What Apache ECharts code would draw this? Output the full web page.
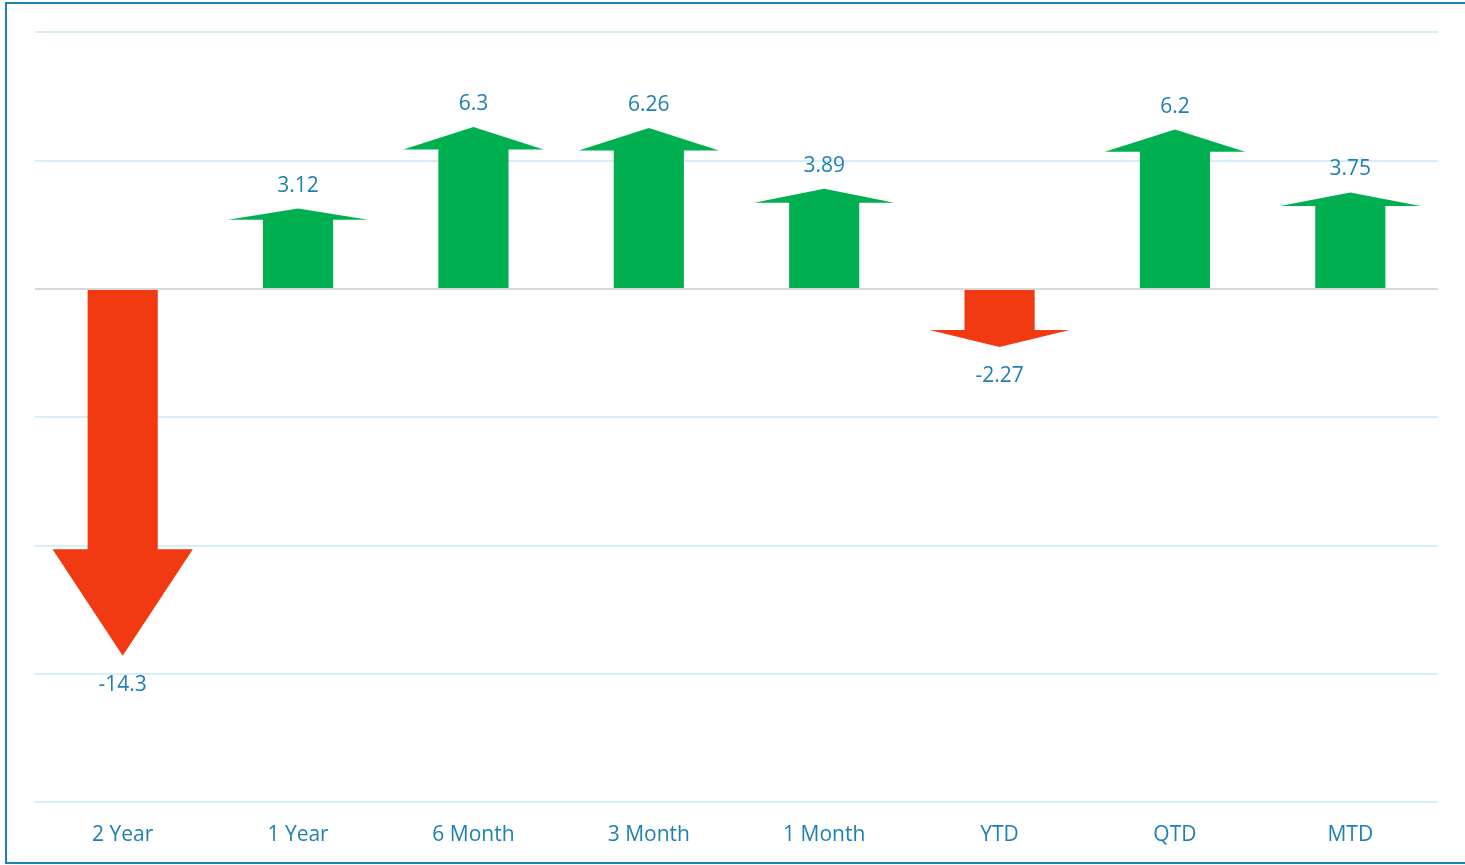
<!DOCTYPE html>
<html>
<head>
<meta charset="utf-8">
<script src="https://cdn.jsdelivr.net/npm/echarts@6/dist/echarts.min.js"></script>
<style>
  html, body { margin: 0; padding: 0; background: #fff; }
  #root { width: 1465px; height: 865px; }
</style>
</head>
<body>
<div id="root"></div>
<script>
// categories and returns
var categories = ['2 Year', '1 Year', '6 Month', '3 Month', '1 Month', 'YTD', 'QTD', 'MTD'];
var values = [-14.3, 3.12, 6.3, 6.26, 3.89, -2.27, 6.2, 3.75];

var textColor = '#1F80B4';
var upColor = '#00B050';
var downColor = '#F23A12';

// draws one arrow from zero to the value
function renderArrow(params, api) {
    var idx = api.value(0);
    var val = api.value(1);
    var base = api.coord([idx, 0]);
    var tip = api.coord([idx, val]);
    var band = api.size([1, 0])[0];
    var bodyHalf = band * 0.2;
    var headHalf = band * 0.4;
    var len = tip[1] - base[1];
    var headLen = len * (val >= 0 ? 0.14 : 0.29);
    var neck = tip[1] - headLen;
    var x = base[0];
    var pts = [
        [x - bodyHalf, base[1]],
        [x - bodyHalf, neck],
        [x - headHalf, neck],
        [x, tip[1]],
        [x + headHalf, neck],
        [x + bodyHalf, neck],
        [x + bodyHalf, base[1]]
    ];
    var offset = val >= 0 ? -23 : 29;
    return {
        type: 'group',
        children: [{
            type: 'polygon',
            shape: { points: pts },
            style: { fill: val >= 0 ? upColor : downColor }
        }, {
            type: 'text',
            x: x,
            y: tip[1] + offset,
            style: {
                text: String(val),
                fill: textColor,
                font: '21px "Open Sans"',
                align: 'center',
                verticalAlign: 'middle'
            }
        }]
    };
}

var myChart = echarts.init(document.getElementById('root'));
myChart.setOption({
    animation: false,
    grid: { left: 35, right: 27, top: 32, bottom: 63 },
    graphic: [{
        type: 'rect',
        shape: { x: 6, y: 3, width: 1460, height: 860 },
        style: { fill: 'none', stroke: '#1A83B1', lineWidth: 2 },
        z: 100
    }],
    xAxis: {
        type: 'category',
        data: categories,
        axisLine: { show: false },
        axisTick: { show: false },
        axisLabel: {
            color: textColor,
            fontFamily: 'Open Sans',
            fontSize: 21,
            margin: 23
        }
    },
    yAxis: {
        type: 'value',
        min: -20,
        max: 10,
        interval: 5,
        axisLabel: { show: false },
        axisLine: { show: false },
        axisTick: { show: false },
        splitLine: { lineStyle: { color: '#D5EEF8', width: 2 } }
    },
    series: [{
        type: 'custom',
        renderItem: renderArrow,
        data: values.map(function (v, i) { return [i, v]; }),
        z: 3
    }, {
        // zero line drawn over gridline
        type: 'line',
        data: [],
        markLine: {
            silent: true,
            symbol: 'none',
            label: { show: false },
            lineStyle: { color: '#D9D9D9', width: 2, type: 'solid' },
            data: [{ yAxis: 0 }]
        }
    }]
});
</script>
</body>
</html>
